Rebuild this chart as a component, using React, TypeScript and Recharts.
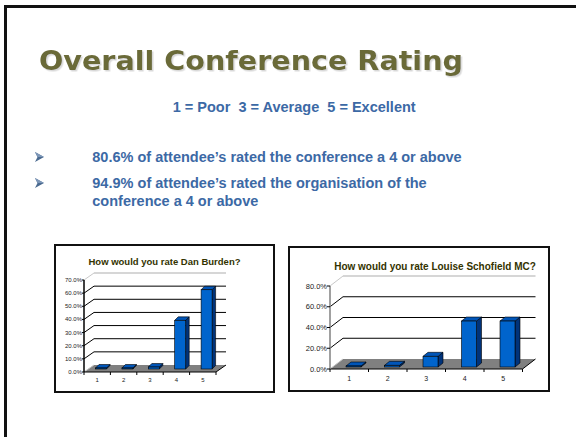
import React from 'react';
import { BarChart, Bar, XAxis, YAxis, CartesianGrid } from 'recharts';

// rating categories (x axis)
const ratings = ['1', '2', '3', '4', '5'];

// share of answers per rating, in %
const danBurdenShare = [0, 0, 1.5, 37.0, 60.3];
const louiseSchofieldShare = [0, 1.6, 10.3, 44.3, 44.3];

// value axis ticks
const danTicks = [0, 10, 20, 30, 40, 50, 60, 70];
const louiseTicks = [0, 20, 40, 60, 80];

// slide text
const slideTitle = 'Overall Conference Rating';
const scaleNote = '1 = Poor  3 = Average  5 = Excellent';
const bulletOne = '80.6% of attendee\u2019s rated the conference a 4 or above';
const bulletTwo = '94.9% of attendee\u2019s rated the organisation of the';
const bulletTwoCont = 'conference a 4 or above';

const danTitle = 'How would you rate Dan Burden?';
const louiseTitle = 'How would you rate Louise Schofield MC?';

const ARIAL = '"Liberation Sans", Arial, sans-serif';
const TEXT_BLUE = '#3c69a5';

type ChartSpec = {
  width: number;
  height: number;
  margin: { top: number; right: number; bottom: number; left: number };
  yWidth: number;
  ticks: number[];
  values: number[];
  title: string;
  titleX: number;
  titleY: number;
  titleSize: number;
  wall: [number, number];
  barOffset: [number, number];
  barDepth: [number, number];
  barSize: number;
  axisColor: string;
  yFont: number;
  xFont: number;
  yTickSize: number;
  xLabelGap: number;
};

function Chart3D({ spec }: { spec: ChartSpec }) {
  const { width, height, margin, yWidth, wall, barOffset, barDepth } = spec;
  const data = ratings.map((r, i) => ({ rating: r, share: spec.values[i] }));
  const plotLeft = margin.left + yWidth;
  const plotRight = width - margin.right;
  const plotTop = margin.top;
  const plotBottom = height - margin.bottom - 20;
  const band = (plotRight - plotLeft) / ratings.length;
  const [dx, dy] = wall;

  const gridLine = (p: any) => {
    const { x1, x2, y1 } = p;
    if (Math.abs(y1 - plotBottom) < 0.6) {
      return (
        <g key={p.key}>
          <polygon
            points={`${x1},${y1} ${x2},${y1} ${x2 + dx},${y1 - dy} ${x1 + dx},${y1 - dy}`}
            fill="#808080"
          />
          <line x1={x1} y1={y1} x2={x1 + dx} y2={y1 - dy} stroke="#c0c0c0" strokeWidth={1} />
          <line x1={x2} y1={y1} x2={x2 + dx} y2={y1 - dy} stroke="#000" strokeWidth={1} />
        </g>
      );
    }
    const top = Math.abs(y1 - plotTop) < 0.6;
    const col = top ? '#c8c8c8' : '#000';
    return (
      <g key={p.key}>
        <line x1={x1} y1={y1} x2={x1 + dx} y2={y1 - dy} stroke={col} strokeWidth={1} />
        <line x1={x1 + dx} y1={y1 - dy} x2={x2 + dx} y2={y1 - dy} stroke={col} strokeWidth={top ? 1.5 : 1} />
      </g>
    );
  };

  const barShape = (p: any) => {
    const { x, y, width: w, height: h } = p;
    const fx = x + barOffset[0];
    const bot = y + h - barOffset[1];
    const top = Math.min(y - barOffset[1], bot - 1);
    const [bx, by] = barDepth;
    return (
      <g>
        <polygon
          points={`${fx + w},${top} ${fx + w + bx},${top - by} ${fx + w + bx},${bot - by} ${fx + w},${bot}`}
          fill="#00337a"
          stroke="#000"
          strokeWidth={0.6}
        />
        <polygon
          points={`${fx},${top} ${fx + w},${top} ${fx + w + bx},${top - by} ${fx + bx},${top - by}`}
          fill="#0055b8"
          stroke="#000"
          strokeWidth={0.6}
        />
        <rect x={fx} y={top} width={w} height={bot - top} fill="#0064cc" stroke="#000" strokeWidth={0.6} />
      </g>
    );
  };

  const yTick = (p: any) => (
    <text
      x={p.x}
      y={p.y}
      textAnchor="end"
      dominantBaseline="central"
      fontFamily={ARIAL}
      fontSize={spec.yFont}
      fill="#222"
    >
      {`${Number(p.payload.value).toFixed(1)}%`}
    </text>
  );

  const xTick = (p: any) => {
    const cx = p.x;
    const left = cx - band / 2;
    const last = p.index === ratings.length - 1;
    return (
      <g>
        <line x1={left} y1={plotBottom} x2={left} y2={plotBottom + 3} stroke="#000" />
        {last && (
          <line x1={left + band} y1={plotBottom} x2={left + band} y2={plotBottom + 3} stroke="#000" />
        )}
        <text
          x={cx}
          y={plotBottom + spec.xLabelGap}
          textAnchor="middle"
          dominantBaseline="central"
          fontFamily={ARIAL}
          fontSize={spec.xFont}
          fill="#222"
        >
          {p.payload.value}
        </text>
      </g>
    );
  };

  return (
    <div style={{ position: 'relative', width, height, background: '#fff' }}>
      <BarChart width={width} height={height} data={data} margin={margin}>
        <CartesianGrid vertical={false} horizontal={gridLine} />
        <XAxis
          dataKey="rating"
          height={20}
          axisLine={{ stroke: '#000', strokeWidth: 1 }}
          tickLine={false}
          tick={xTick}
          interval={0}
        />
        <YAxis
          type="number"
          width={yWidth}
          domain={[0, spec.ticks[spec.ticks.length - 1]]}
          ticks={spec.ticks}
          interval={0}
          axisLine={{ stroke: spec.axisColor, strokeWidth: 1.5 }}
          tickLine={{ stroke: '#000' }}
          tickSize={spec.yTickSize}
          tickMargin={0}
          tick={yTick}
        />
        <Bar dataKey="share" barSize={spec.barSize} shape={barShape} isAnimationActive={false} />
      </BarChart>
      <div
        style={{
          position: 'absolute',
          left: 0,
          top: spec.titleY - spec.titleSize,
          width: width,
          textAlign: 'center',
          paddingLeft: (spec.titleX - width / 2) * 2,
          boxSizing: 'border-box',
          fontFamily: ARIAL,
          fontWeight: 'bold',
          fontSize: spec.titleSize,
          lineHeight: `${spec.titleSize * 1.15}px`,
          color: '#333300',
          whiteSpace: 'nowrap',
        }}
      >
        {spec.title}
      </div>
      <div
        style={{
          position: 'absolute',
          inset: 0,
          border: '2px solid #111',
          pointerEvents: 'none',
        }}
      />
    </div>
  );
}

const danSpec: ChartSpec = {
  width: 221,
  height: 149,
  margin: { top: 36, right: 59, bottom: 1, left: 0 },
  yWidth: 30,
  ticks: danTicks,
  values: danBurdenShare,
  title: danTitle,
  titleX: 103.5,
  titleY: 22,
  titleSize: 9.5,
  wall: [10, 7],
  barOffset: [3.5, 3],
  barDepth: [3.5, 3.5],
  barSize: 11,
  axisColor: '#000',
  yFont: 6,
  xFont: 6,
  yTickSize: 2,
  xLabelGap: 7.5,
};

const louiseSpec: ChartSpec = {
  width: 262,
  height: 146,
  margin: { top: 40, right: 27.5, bottom: 3, left: 0 },
  yWidth: 42,
  ticks: louiseTicks,
  values: louiseSchofieldShare,
  title: louiseTitle,
  titleX: 147,
  titleY: 25,
  titleSize: 10,
  wall: [13, 10],
  barOffset: [4, 2],
  barDepth: [5, 4],
  barSize: 15,
  axisColor: '#808080',
  yFont: 7.5,
  xFont: 7,
  yTickSize: 3,
  xLabelGap: 9,
};

function Arrow({ cy }: { cy: number }) {
  return (
    <g>
      <polygon points={`35,${cy - 5} 44,${cy} 35,${cy + 5} 37.5,${cy}`} fill="#4a6a90" />
      <polygon points={`35,${cy - 5} 44,${cy} 37.5,${cy}`} fill="#7d97b8" />
    </g>
  );
}

export default function App() {
  return (
    <div
      style={{
        position: 'absolute',
        left: 0,
        top: 0,
        width: 576,
        height: 437,
        overflow: 'hidden',
        background: '#fff',
      }}
    >
      <div
        style={{
          position: 'absolute',
          left: 4,
          top: 5,
          width: 600,
          height: 460,
          borderLeft: '3px solid #111',
          borderTop: '3px solid #111',
        }}
      />
      <svg width={576} height={437} style={{ position: 'absolute', left: 0, top: 0 }}>
        <defs>
          <filter id="tshadow" x="-5%" y="-20%" width="110%" height="150%">
            <feDropShadow dx="1.5" dy="1.5" stdDeviation="0.5" floodColor="#b8b8b8" floodOpacity="0.55" />
          </filter>
        </defs>
        <text
          x={39}
          y={70}
          fontFamily='"DejaVu Sans", Verdana, sans-serif'
          fontWeight="bold"
          fontSize={27}
          fill="#6b6b38"
          textLength={424}
          lengthAdjust="spacingAndGlyphs"
          filter="url(#tshadow)"
        >
          {slideTitle}
        </text>
        <text
          x={172.7}
          y={112.3}
          fontFamily={ARIAL}
          fontWeight="bold"
          fontSize={14}
          fill={TEXT_BLUE}
          textLength={243}
          lengthAdjust="spacingAndGlyphs"
          style={{ whiteSpace: 'pre' }}
        >
          {scaleNote}
        </text>
        <Arrow cy={157} />
        <Arrow cy={183} />
        <text x={92.3} y={161.7} fontFamily={ARIAL} fontWeight="bold" fontSize={14} fill={TEXT_BLUE} textLength={369.4} lengthAdjust="spacingAndGlyphs">
          {bulletOne}
        </text>
        <text x={92.3} y={188.3} fontFamily={ARIAL} fontWeight="bold" fontSize={14} fill={TEXT_BLUE} textLength={334.4} lengthAdjust="spacingAndGlyphs">
          {bulletTwo}
        </text>
        <text x={92.3} y={205.7} fontFamily={ARIAL} fontWeight="bold" fontSize={14} fill={TEXT_BLUE} textLength={166} lengthAdjust="spacingAndGlyphs">
          {bulletTwoCont}
        </text>
      </svg>
      <div style={{ position: 'absolute', left: 54, top: 244 }}>
        <Chart3D spec={danSpec} />
      </div>
      <div style={{ position: 'absolute', left: 288, top: 246 }}>
        <Chart3D spec={louiseSpec} />
      </div>
    </div>
  );
}
